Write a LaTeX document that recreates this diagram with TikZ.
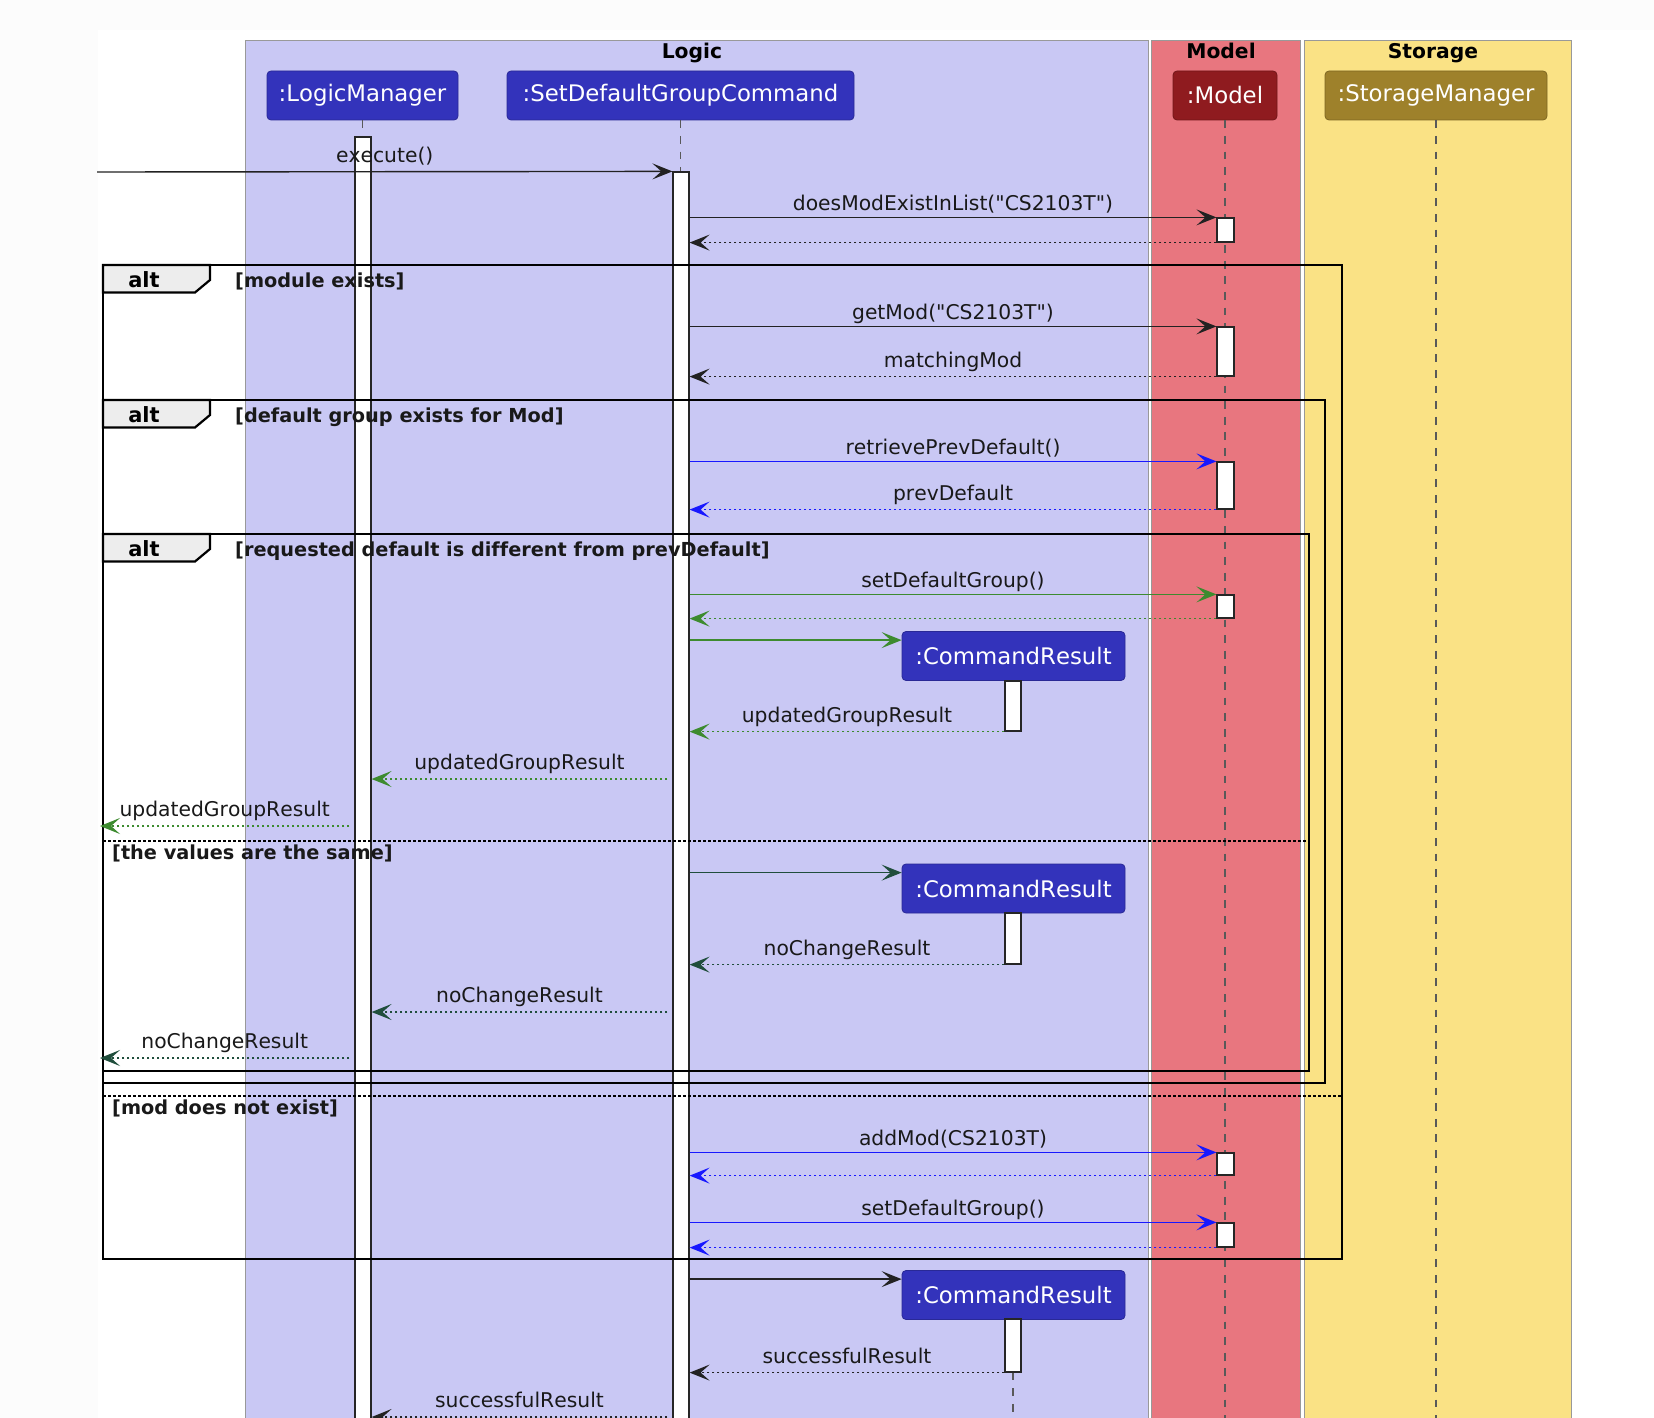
\documentclass[tikz,border=0pt]{standalone}
\usepackage{fontspec}
\setmainfont{DejaVu Sans}[Kerning=Off, Ligatures={TeXOff,CommonOff}]
\usetikzlibrary{arrows.meta,calc}
\definecolor{bgc}{HTML}{FCFCFC}
\definecolor{logicbg}{HTML}{C9C8F4}
\definecolor{modelbg}{HTML}{E8767F}
\definecolor{storagebg}{HTML}{FAE285}
\definecolor{pblue}{HTML}{3333BB}
\definecolor{pred}{HTML}{8F1B1F}
\definecolor{polive}{HTML}{9E812B}
\definecolor{cgreen}{HTML}{3D8B2F}
\definecolor{cdgreen}{HTML}{204E3C}
\definecolor{cblue}{HTML}{1818FF}
\definecolor{ink}{HTML}{222222}
\begin{document}
\begin{tikzpicture}[x=1pt,y=-1pt,
  lane/.style={draw=black!40, line width=0.9pt},
  lanetitle/.style={font=\bfseries\fontsize{20.3}{24}\selectfont, anchor=base, inner sep=0},
  part/.style={rounded corners=4pt, draw=#1!80!black, fill=#1, line width=0.8pt, text=white,
    font=\fontsize{22.8}{27}\selectfont, inner sep=0, minimum height=49pt},
  lifeline/.style={draw=black!65, line width=1.1pt, dash pattern=on 7.8pt off 7.8pt},
  bar/.style={draw=black!85, fill=white, line width=1.2pt, inner sep=0, minimum width=16pt},
  msg/.style={line width=1.4pt, -{Stealth[length=20pt,width=16pt,inset=9pt]}},
  ret/.style={msg, dash pattern=on 2.5pt off 2.5pt},
  lbl/.style={font=\fontsize{20.3}{24}\selectfont, anchor=base, inner sep=0, yshift=7pt, text=black!90},
  rlbl/.style={lbl, yshift=2.5pt},
  frame/.style={draw=black, line width=2.9pt},
  guard/.style={font=\bfseries\fontsize{19.3}{23}\selectfont, anchor=base west, inner sep=0, text=black!90},
  alttab/.style={draw=black, line width=2.2pt, fill=black!7},
  alttext/.style={font=\bfseries\fontsize{21}{25}\selectfont, anchor=base, inner sep=0},
  sep/.style={draw=black, line width=1.1pt, dash pattern=on 2.5pt off 2.5pt}
]
% background
\fill[bgc] (0,0) rectangle (1654,1418);
\fill[white] (98,30) rectangle (1654,1418);
\useasboundingbox (0,0) rectangle (1654,1418);

% lanes
\path[lane, fill=logicbg] (245,40) rectangle (1148,1440);
\path[lane, fill=modelbg] (1151,40) rectangle (1300,1440);
\path[lane, fill=storagebg] (1304,40) rectangle (1571,1440);
\node[lanetitle] (tlogic) at (692,58.5) {Logic};
\node[lanetitle] (tmodel) at (1221,58.5) {Model};
\node[lanetitle] (tstorage) at (1433,58.5) {Storage};

\coordinate (bottom) at (0,1440);

% participants
\node[part=pblue, minimum width=191pt] (lm) at (362.5,95.5) {:LogicManager};
\node[part=pblue, minimum width=347pt] (sdc) at (680.5,95.5) {:SetDefaultGroupCommand};
\node[part=pred, minimum width=104pt] (model) at (1225,95.5) {:Model};
\node[part=polive, minimum width=222pt] (storage) at (1436,95.5) {:StorageManager};

% lifelines
\draw[lifeline] (lm.south) -- (lm.south |- bottom);
\draw[lifeline] (sdc.south) -- (sdc.south |- bottom);
\draw[lifeline] (model.south) -- (model.south |- bottom);
\draw[lifeline] (storage.south) -- (storage.south |- bottom);

% activation bars
\node[bar, minimum height=1293pt] (lmb) at (363,783.5) {};
\node[bar, minimum height=1258pt] (sdb) at (681,801) {};
\node[bar, minimum width=17pt, minimum height=24pt] (mb1) at (1225.5,230) {};
\node[bar, minimum width=17pt, minimum height=49pt] (mb2) at (1225.5,351.5) {};
\node[bar, minimum width=17pt, minimum height=47pt] (mb3) at (1225.5,485.5) {};
\node[bar, minimum width=17pt, minimum height=23pt] (mb4) at (1225.5,606.5) {};
\node[bar, minimum width=17pt, minimum height=22pt] (mb5) at (1225.5,1164) {};
\node[bar, minimum width=17pt, minimum height=24pt] (mb6) at (1225.5,1235) {};

% command results
\node[part=pblue, minimum width=223pt] (cr1) at (1013.5,656) {:CommandResult};
\node[bar, minimum height=50pt] (crb1) at (1013,706) {};
\node[part=pblue, minimum width=223pt] (cr2) at (1013.5,888.5) {:CommandResult};
\node[bar, minimum height=51pt] (crb2) at (1013,938.5) {};
\node[part=pblue, minimum width=223pt] (cr3) at (1013.5,1295) {:CommandResult};
\node[bar, minimum height=53pt] (crb3) at (1013,1345.5) {};
\draw[lifeline] (crb3.south) -- (crb3.south |- bottom);

% frames
\draw[frame] (103,265) rectangle (1342,1259);
\draw[frame] (103,400) rectangle (1325,1083);
\draw[frame] (103,534) rectangle (1309,1071);
\foreach \t in {265,400,534}{
  \draw[alttab] (103,\t) -- (210,\t) -- (210,\t+15) -- (195,\t+27.5) -- (103,\t+27.5) -- cycle;
}
\node[alttext] (alt1) at (144,287.5) {alt};
\node[alttext] (alt2) at (144,422.5) {alt};
\node[alttext] (alt3) at (144,556.5) {alt};
\node[guard] (g1) at (235,287.5) {[module exists]};
\node[guard] (g2) at (235,422.5) {[default group exists for Mod]};
\node[guard] (g3) at (235,556.5) {[requested default is different from prevDefault]};
\draw[sep] (103,841) -- (1309,841);
\node[guard] (g4) at (112,859.5) {[the values are the same]};
\draw[sep] (103,1096) -- (1342,1096);
\node[guard] (g5) at (112,1114.5) {[mod does not exist]};

% messages
\coordinate (extin) at (97,172);
\coordinate (ext) at (100,0);
\draw[msg, draw=ink] (extin) -- node[rlbl]{execute()} (sdb.north west);

\draw[msg, draw=ink] (sdb.east |- mb1.north) -- node[lbl]{doesModExistInList("CS2103T")} (mb1.north west);
\draw[ret, draw=ink] (mb1.south west) -- (sdb.east |- mb1.south);

\draw[msg, draw=ink] (sdb.east |- mb2.north) -- node[lbl]{getMod("CS2103T")} (mb2.north west);
\draw[ret, draw=ink] (mb2.south west) -- node[rlbl]{matchingMod} (sdb.east |- mb2.south);

\draw[msg, draw=cblue] (sdb.east |- mb3.north) -- node[lbl]{retrievePrevDefault()} (mb3.north west);
\draw[ret, draw=cblue] (mb3.south west) -- node[rlbl]{prevDefault} (sdb.east |- mb3.south);

\draw[msg, draw=cgreen] (sdb.east |- mb4.north) -- node[lbl]{setDefaultGroup()} (mb4.north west);
\draw[ret, draw=cgreen] (mb4.south west) -- (sdb.east |- mb4.south);

\coordinate (cr1a) at ([yshift=-9pt]cr1.north west);
\draw[msg, draw=cgreen] (sdb.east |- cr1a) -- (cr1a);
\draw[ret, draw=cgreen] (crb1.south west) -- node[rlbl]{updatedGroupResult} (sdb.east |- crb1.south);
\coordinate (r1) at (0,779);
\draw[ret, draw=cgreen] ($(sdb.west |- r1)+(-5,0)$) -- node[rlbl]{updatedGroupResult} (lmb.east |- r1);
\coordinate (r2) at (0,826);
\draw[ret, draw=cgreen] ($(lmb.west |- r2)+(-5,0)$) -- node[rlbl]{updatedGroupResult} (ext |- r2);

\coordinate (cr2a) at ([yshift=-9pt]cr2.north west);
\draw[msg, draw=cdgreen] (sdb.east |- cr2a) -- (cr2a);
\draw[ret, draw=cdgreen] (crb2.south west) -- node[rlbl]{noChangeResult} (sdb.east |- crb2.south);
\coordinate (r3) at (0,1012);
\draw[ret, draw=cdgreen] ($(sdb.west |- r3)+(-5,0)$) -- node[rlbl]{noChangeResult} (lmb.east |- r3);
\coordinate (r4) at (0,1058);
\draw[ret, draw=cdgreen] ($(lmb.west |- r4)+(-5,0)$) -- node[rlbl]{noChangeResult} (ext |- r4);

\draw[msg, draw=cblue] (sdb.east |- mb5.north) -- node[lbl]{addMod(CS2103T)} (mb5.north west);
\draw[ret, draw=cblue] (mb5.south west) -- (sdb.east |- mb5.south);
\draw[msg, draw=cblue] (sdb.east |- mb6.north) -- node[lbl]{setDefaultGroup()} (mb6.north west);
\draw[ret, draw=cblue] (mb6.south west) -- (sdb.east |- mb6.south);

\coordinate (cr3a) at ([yshift=-9pt]cr3.north west);
\draw[msg, draw=ink] (sdb.east |- cr3a) -- (cr3a);
\draw[ret, draw=ink] (crb3.south west) -- node[rlbl]{successfulResult} (sdb.east |- crb3.south);
\coordinate (r5) at (0,1417);
\draw[ret, draw=ink] ($(sdb.west |- r5)+(-5,0)$) -- node[rlbl]{successfulResult} (lmb.east |- r5);
\end{tikzpicture}
\end{document}
